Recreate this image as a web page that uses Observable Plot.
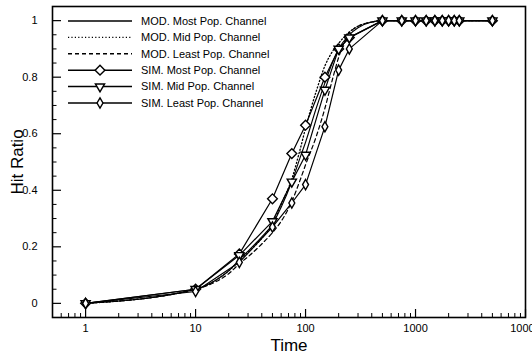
<!DOCTYPE html>
<html>
<head>
<meta charset="utf-8">
<script src="https://cdn.jsdelivr.net/npm/d3@7"></script>
<script src="https://cdn.jsdelivr.net/npm/@observablehq/plot@0.6"></script>
<style>
  html, body { margin: 0; padding: 0; background: white; overflow: hidden; }
  #chart { width: 532px; height: 363px; overflow: hidden; }
</style>
</head>
<body>
<div id="chart"></div>
<script>
// ---- data ----
const simTime = [1, 10, 25, 50, 75, 100, 150, 200, 250, 500, 750, 1000, 1250, 1500, 1750, 2000, 2250, 2500, 5000];
const simMost  = [0, 0.05, 0.175, 0.37, 0.53, 0.63, 0.80, 0.90, 0.94, 1, 1, 1, 1, 1, 1, 1, 1, 1, 1];
const simMid   = [0, 0.05, 0.17, 0.29, 0.43, 0.525, 0.755, 0.90, 0.94, 1, 1, 1, 1, 1, 1, 1, 1, 1, 1];
const simLeast = [0, 0.042, 0.145, 0.27, 0.355, 0.42, 0.625, 0.825, 0.90, 1, 1, 1, 1, 1, 1, 1, 1, 1, 1];

const modTime  = [1, 10, 15, 20, 25, 30, 40, 50, 60, 75, 90, 100, 125, 150, 175, 200, 250, 300, 400, 500, 1000, 2000, 5000];
const modMost  = [0, 0.05, 0.08, 0.115, 0.155, 0.185, 0.235, 0.28, 0.34, 0.43, 0.52, 0.57, 0.69, 0.78, 0.85, 0.90, 0.95, 0.975, 0.995, 1, 1, 1, 1];
const modMid   = [0, 0.05, 0.08, 0.115, 0.15, 0.18, 0.23, 0.28, 0.35, 0.44, 0.55, 0.62, 0.75, 0.84, 0.89, 0.92, 0.96, 0.98, 0.995, 1, 1, 1, 1];
const modLeast = [0, 0.05, 0.075, 0.105, 0.14, 0.165, 0.21, 0.25, 0.29, 0.36, 0.44, 0.49, 0.59, 0.69, 0.79, 0.87, 0.955, 0.98, 0.995, 1, 1, 1, 1];

const xMajorTicks = [1, 10, 100, 1000, 10000];
const yMajorTicks = [0, 0.2, 0.4, 0.6, 0.8, 1];
const xLabel = "Time";
const yLabel = "Hit Ratio";
const legendLabels = [
  "MOD. Most Pop. Channel",
  "MOD. Mid Pop. Channel",
  "MOD. Least Pop. Channel",
  "SIM. Most Pop. Channel",
  "SIM. Mid Pop. Channel",
  "SIM. Least Pop. Channel"
];

// ---- build tables ----
const simRows = (vals) => simTime.map((t, i) => ({t, v: vals[i]}));
const modRows = (vals) => modTime.map((t, i) => ({t, v: vals[i]}));

const W = 532, H = 363;
const mL = 52, mR = 7, mT = 6, mB = 46;
const frameW = W - mL - mR, frameH = H - mT - mB;
const xDomain = [0.5, 10000];

const xMinorTicks = [];
for (const d of [0.1, 1, 10, 100, 1000]) for (let k = 2; k <= 9; k++) {
  const v = k * d; if (v > xDomain[0] && v < xDomain[1]) xMinorTicks.push(+v.toPrecision(3));
}
const yMinorTicks = [];
for (let i = 0; i <= 20; i++) { const v = +(i * 0.05).toFixed(2); if (!yMajorTicks.includes(v)) yMinorTicks.push(v); }

const dash = {solid: null, dotted: "1.2,2.2", dashed: "4,3"};
const symStyle = {fill: "white", stroke: "black", strokeWidth: 1.4};
const rDiamond2 = 4.4, rTri = 4.4, rDiamond = 3.1;

const plot = Plot.plot({
  width: W, height: H,
  marginLeft: mL, marginRight: mR, marginTop: mT, marginBottom: mB,
  x: {type: "log", domain: xDomain, axis: null},
  y: {domain: [-0.05, 1.05], axis: null},
  style: {fontFamily: "'Liberation Sans', Arial, Helvetica, sans-serif", fontSize: "11px", color: "black", background: "white", overflow: "hidden"},
  marks: [
    // ticks (inward)
    Plot.ruleX(xMajorTicks, {x: d => d, insetTop: frameH - 8, stroke: "black", strokeWidth: 1.2}),
    Plot.ruleX(xMinorTicks, {x: d => d, insetTop: frameH - 4, stroke: "black", strokeWidth: 1}),
    Plot.ruleY(yMajorTicks, {y: d => d, insetRight: frameW - 9, stroke: "black", strokeWidth: 1.2}),
    Plot.ruleY(yMinorTicks, {y: d => d, insetRight: frameW - 4.5, stroke: "black", strokeWidth: 1}),
    // tick labels
    Plot.axisX({ticks: xMajorTicks, tickSize: 0, tickPadding: 7, tickFormat: d => String(d), label: null, fontSize: 11}),
    Plot.axisY({ticks: yMajorTicks, tickSize: 0, tickPadding: 15, tickFormat: d => String(d), label: null, fontSize: 11}),
    // axis titles
    Plot.text([xLabel], {frameAnchor: "bottom", dy: 33, fontSize: 17, textAnchor: "middle"}),
    Plot.text([yLabel], {frameAnchor: "left", dx: -35, rotate: -90, fontSize: 17, textAnchor: "middle"}),
    // MOD curves
    Plot.line(modRows(modMost),  {x: "t", y: "v", curve: "monotone-x", stroke: "black", strokeWidth: 1.1}),
    Plot.line(modRows(modMid),   {x: "t", y: "v", curve: "monotone-x", stroke: "black", strokeWidth: 1.3, strokeDasharray: dash.dotted}),
    Plot.line(modRows(modLeast), {x: "t", y: "v", curve: "monotone-x", stroke: "black", strokeWidth: 1.2, strokeDasharray: dash.dashed}),
    // SIM lines
    Plot.line(simRows(simMost),  {x: "t", y: "v", stroke: "black", strokeWidth: 1.2}),
    Plot.line(simRows(simMid),   {x: "t", y: "v", stroke: "black", strokeWidth: 1.2}),
    Plot.line(simRows(simLeast), {x: "t", y: "v", stroke: "black", strokeWidth: 1.2}),
    // SIM markers
    Plot.dot(simRows(simMost),  {x: "t", y: "v", symbol: "diamond2", r: rDiamond2, ...symStyle}),
    Plot.dot(simRows(simMid),   {x: "t", y: "v", symbol: "triangle2", rotate: 180, r: rTri, ...symStyle}),
    Plot.dot(simRows(simLeast), {x: "t", y: "v", symbol: "diamond", r: rDiamond, ...symStyle}),
    Plot.frame({stroke: "black", strokeWidth: 1.6})
  ]
});

document.getElementById("chart").appendChild(plot);

// ---- legend (inside plot, upper left) ----
const legendItems = [
  {dash: dash.solid,  sym: null},
  {dash: dash.dotted, sym: null},
  {dash: dash.dashed, sym: null},
  {dash: dash.solid,  sym: d3.symbolDiamond2, r: rDiamond2, rot: 0},
  {dash: dash.solid,  sym: d3.symbolTriangle2, r: rTri, rot: 180},
  {dash: dash.solid,  sym: d3.symbolDiamond, r: rDiamond, rot: 0}
].map((d, i) => ({...d, label: legendLabels[i]}));

const svg = d3.select(plot.tagName.toLowerCase() === "svg" ? plot : plot.querySelector("svg"));
const lg = svg.append("g")
  .attr("font-family", "'Liberation Sans', Arial, Helvetica, sans-serif")
  .attr("font-size", 11)
  .attr("text-anchor", "start");
const x0 = 68, x1 = 132, xs = 100, xt = 141, y0 = 21, dy = 16.4;
legendItems.forEach((d, i) => {
  const y = y0 + i * dy;
  lg.append("line").attr("x1", x0).attr("x2", x1).attr("y1", y).attr("y2", y)
    .attr("stroke", "black").attr("stroke-width", d.dash === dash.dotted ? 1.3 : 1.5)
    .attr("stroke-dasharray", d.dash);
  if (d.sym) {
    lg.append("path").attr("d", d3.symbol(d.sym, Math.PI * d.r * d.r)())
      .attr("transform", `translate(${xs},${y}) rotate(${d.rot})`)
      .attr("fill", "white").attr("stroke", "black").attr("stroke-width", 1.4);
  }
  lg.append("text").attr("x", xt).attr("y", y).attr("dy", "0.35em")
    .style("text-anchor", "start").text(d.label);
});
</script>
</body>
</html>
